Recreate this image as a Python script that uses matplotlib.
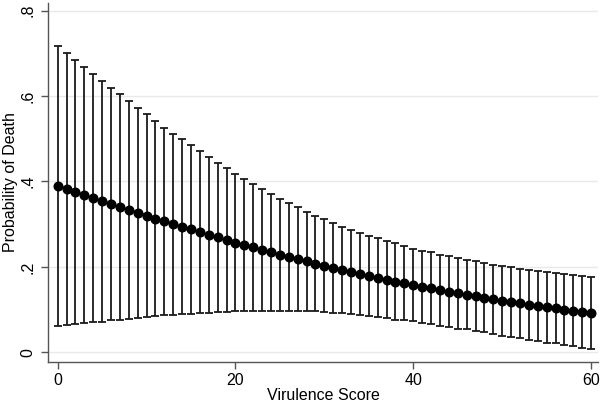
import numpy as np
import matplotlib
matplotlib.use("Agg")
import matplotlib.pyplot as plt

# =========================
# DATA
# =========================
virulence = list(range(0, 61))

prob_death = [
    0.390, 0.383, 0.376, 0.368, 0.361, 0.354, 0.347, 0.340, 0.333, 0.327,
    0.320, 0.313, 0.307, 0.300, 0.294, 0.288, 0.281, 0.275, 0.269, 0.263,
    0.257, 0.251, 0.246, 0.240, 0.234, 0.229, 0.224, 0.218, 0.213, 0.208,
    0.203, 0.198, 0.193, 0.189, 0.184, 0.179, 0.175, 0.170, 0.166, 0.162,
    0.158, 0.154, 0.150, 0.146, 0.142, 0.138, 0.135, 0.131, 0.128, 0.124,
    0.121, 0.118, 0.115, 0.112, 0.109, 0.106, 0.103, 0.100, 0.097, 0.095,
    0.092,
]

ci_upper = [
    0.717, 0.701, 0.684, 0.669, 0.651, 0.636, 0.619, 0.605, 0.588, 0.573,
    0.557, 0.542, 0.526, 0.512, 0.499, 0.485, 0.471, 0.457, 0.443, 0.431,
    0.417, 0.405, 0.393, 0.382, 0.371, 0.360, 0.350, 0.340, 0.329, 0.320,
    0.312, 0.303, 0.294, 0.287, 0.280, 0.273, 0.267, 0.260, 0.255, 0.249,
    0.242, 0.238, 0.234, 0.229, 0.225, 0.221, 0.216, 0.213, 0.209, 0.205,
    0.203, 0.200, 0.196, 0.193, 0.191, 0.188, 0.185, 0.183, 0.181, 0.178,
    0.176,
]

ci_lower = [
    0.063, 0.065, 0.067, 0.068, 0.072, 0.072, 0.075, 0.076, 0.079, 0.080,
    0.083, 0.085, 0.087, 0.088, 0.089, 0.090, 0.092, 0.093, 0.095, 0.095,
    0.097, 0.098, 0.098, 0.098, 0.098, 0.098, 0.097, 0.097, 0.097, 0.096,
    0.094, 0.093, 0.092, 0.090, 0.088, 0.086, 0.083, 0.081, 0.077, 0.075,
    0.074, 0.069, 0.066, 0.063, 0.059, 0.056, 0.054, 0.050, 0.047, 0.044,
    0.039, 0.036, 0.033, 0.030, 0.026, 0.023, 0.021, 0.017, 0.014, 0.011,
    0.008,
]

x_ticks = [0, 20, 40, 60]
y_ticks = [0.0, 0.2, 0.4, 0.6, 0.8]
y_ticklabels = ["0", ".2", ".4", ".6", ".8"]

# =========================
# PLOT
# =========================
plt.rcParams["font.family"] = ["Liberation Sans", "DejaVu Sans"]

x = np.array(virulence)
p = np.array(prob_death)
lo = np.array(ci_lower)
hi = np.array(ci_upper)

fig = plt.figure(figsize=(6.0, 4.03), dpi=100)
ax = fig.add_axes([0.0795, 0.101, 0.9175, 0.892])

for yv in y_ticks:
    ax.axhline(yv, color="#e9e9e9", linewidth=1.0, zorder=0)

ax.errorbar(x, p, yerr=[p - lo, hi - p], fmt="none", ecolor="#1a1a1a",
            elinewidth=1.3, capsize=3.2, capthick=1.3, zorder=2)
ax.plot(x, p, color="black", linewidth=1.6, marker="o", markersize=6.2,
        markerfacecolor="black", markeredgecolor="black", zorder=3)

ax.set_xlim(-1.12, 60.8)
ax.set_ylim(-0.023, 0.818)

ax.set_xticks(x_ticks)
ax.set_yticks(y_ticks)
ax.set_yticklabels(y_ticklabels, rotation=90, va="center")

for s in ["top", "right"]:
    ax.spines[s].set_visible(False)
for s in ["left", "bottom"]:
    ax.spines[s].set_color("#555555")
    ax.spines[s].set_linewidth(1.0)

ax.tick_params(axis="both", direction="out", length=5, width=1.0,
               color="#555555", labelsize=11.5, labelcolor="black")
ax.tick_params(axis="y", pad=4)
ax.tick_params(axis="x", pad=3)

ax.set_xlabel("Virulence Score", fontsize=11.5, labelpad=0)
fig.text(0.018, 0.547, "Probability of Death", rotation=90,
         ha="center", va="center", fontsize=11.5)

fig.savefig("out.png", dpi=100, facecolor="white")
